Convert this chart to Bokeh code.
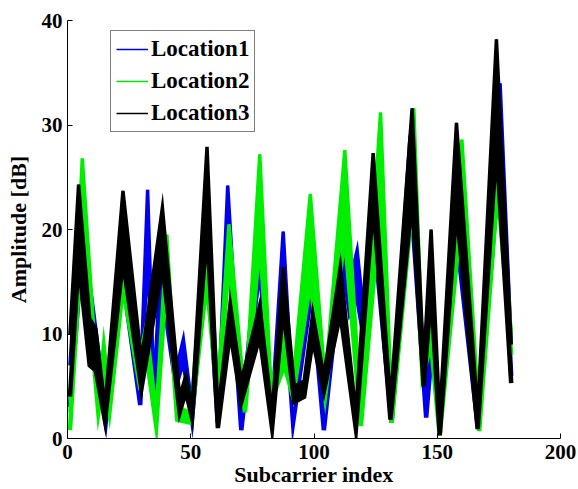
from bokeh.plotting import figure
from bokeh.models import Range1d, FixedTicker, Legend, LegendItem
from bokeh.embed import file_html
from bokeh.resources import INLINE

# ---- data (envelope of the packet traces per location) ----
loc1_x = [1, 5, 10.5, 15.5, 22, 29.5, 32.5, 35, 38.5, 44, 47, 50.5, 56.5, 61, 65, 70.5, 78, 83,
          87.5, 91.5, 99, 104, 111.5, 114.5, 117.5, 121, 124.5, 131.5, 139, 145.5, 148, 151,
          157.5, 166.5, 175.5, 180]
loc1_lo = [3, 15, 8.5, 1.5, 16, 3.2, 19, 3.2, 14, 5, 7.5, 1.8, 18, 1.5, 19.5, 0.8, 16.5, 2,
           15, 1.5, 14, 0.8, 17, 12, 13.5, 8.5, 19, 1.5, 24, 2, 9, 1,
           20, 1, 27, 6]
loc1_hi = [7, 22, 12.3, 3, 21, 4.5, 23.8, 4.5, 20, 6.5, 9.5, 3, 24, 2.5, 24.2, 2.5, 20, 3.2,
           19.8, 3.2, 19, 2.5, 20.8, 15, 18, 10, 24, 3, 29, 3.5, 12, 2,
           23, 2.5, 34, 9]

loc2_x = [1, 6, 12.5, 14.7, 17, 22.5, 29, 32, 36, 40.3, 44.5, 50, 56.5, 61, 65.5, 72, 78, 82.5,
          88, 91.5, 98.5, 104.5, 112.5, 119, 127, 131.5, 140.5, 144, 147.5, 151, 160, 167,
          174.5, 180]
loc2_lo = [0.8, 20, 2.5, 6, 2.5, 14.5, 5.5, 8, 1.2, 16, 1.8, 1.5, 15, 3.5, 17, 2.5, 19, 3.5,
           7, 4, 15, 4, 19.5, 1.2, 22.5, 1.5, 24, 6, 9, 0.3, 22, 0.7,
           24, 8]
loc2_hi = [2.5, 26.8, 4, 9.2, 4, 18.2, 7.5, 11, 2.5, 19.5, 3, 2.5, 22, 5, 20.5, 3.5, 27.2, 5,
           10, 5.5, 23.4, 5.5, 27.6, 2.5, 31.2, 3, 31.6, 8, 13, 1.5, 28.6, 2,
           30, 10]

loc3_x = [1, 4.5, 9, 11.5, 15.2, 22.5, 30, 38.5, 45.5, 48, 50.5, 56.6, 61, 66, 70.5, 78, 83,
          87.5, 92, 96, 99.5, 104, 110.7, 117, 124, 131, 139.8, 144.5, 147.5, 151, 157.8,
          166.4, 174, 180]
loc3_lo = [4, 17, 7, 6.5, 1.7, 17, 4.8, 16.5, 2.5, 4.5, 2, 20, 1, 10.3, 3.5, 9.8, 1,
           12.5, 3.5, 4, 9.5, 4.5, 12, 0.9, 22.5, 1.8, 23, 5, 14, 0.3, 22,
           0.9, 28, 5.3]
loc3_hi = [10, 24.3, 11.5, 10.5, 3, 23.7, 7.5, 22.1, 4, 6, 3, 27.9, 2.5, 13, 5.5, 12.8, 2.5,
           16.4, 5, 5.5, 12, 6, 16.5, 2.5, 27.3, 3.5, 31.6, 7, 20, 2, 30.2,
           2.5, 38.2, 9]

labels = ["Location1", "Location2", "Location3"]
x_ticks = [0, 50, 100, 150, 200]
y_ticks = [0, 10, 20, 30, 40]

colors = ["#0000ee", "#00ee00", "#000000"]
FONT = "Liberation Serif"

p = figure(width=578, height=489, x_range=Range1d(0, 200), y_range=Range1d(0, 40),
           output_backend="svg", toolbar_location=None,
           min_border_left=67, min_border_right=18, min_border_top=20, min_border_bottom=50)
p.outline_line_color = None
p.xgrid.visible = False
p.ygrid.visible = False
p.background_fill_color = "white"
p.border_fill_color = "white"

series = [(loc1_x, loc1_lo, loc1_hi), (loc2_x, loc2_lo, loc2_hi), (loc3_x, loc3_lo, loc3_hi)]
items = []
for (xs, lo, hi), c, lab in zip(series, colors, labels):
    p.varea(x=xs, y1=lo, y2=hi, fill_color=c, fill_alpha=1.0)
    p.line(xs, lo, line_color=c, line_width=4.5, line_join="miter")
    p.line(xs, hi, line_color=c, line_width=3.5, line_join="miter")
    key = p.line(xs, hi, line_color=c, line_width=1.5, line_alpha=1.0)
    items.append(LegendItem(label=lab, renderers=[key]))

for ax in (p.xaxis[0], p.yaxis[0]):
    ax.major_tick_in = 5
    ax.major_tick_out = 0
    ax.minor_tick_line_color = None
    ax.axis_line_color = "black"
    ax.major_tick_line_color = "black"
    ax.major_label_text_font = FONT
    ax.major_label_text_font_style = "bold"
    ax.major_label_text_font_size = "21px"
    ax.major_label_text_color = "black"
    ax.axis_label_text_font = FONT
    ax.axis_label_text_font_style = "bold"
    ax.axis_label_text_font_size = "22px"
    ax.axis_label_text_color = "black"

p.xaxis.ticker = FixedTicker(ticks=x_ticks)
p.yaxis.ticker = FixedTicker(ticks=y_ticks)
p.xaxis.axis_label = "Subcarrier index"
p.yaxis.axis_label = "Amplitude [dB]"
p.xaxis.major_label_standoff = 6
p.xaxis.axis_label_standoff = 0
p.yaxis.major_label_standoff = 5
p.yaxis.axis_label_standoff = 8

legend = Legend(items=items, location=(43, 306))
legend.label_text_font = FONT
legend.label_text_font_style = "bold"
legend.label_text_font_size = "23px"
legend.label_text_color = "black"
legend.border_line_color = "black"
legend.border_line_width = 1
legend.padding = 5
legend.spacing = 6
legend.glyph_width = 32
legend.glyph_height = 26
legend.label_standoff = 3
legend.margin = 0
legend.background_fill_alpha = 1.0
p.add_layout(legend)

open("out.html", "w").write(file_html(p, INLINE))
